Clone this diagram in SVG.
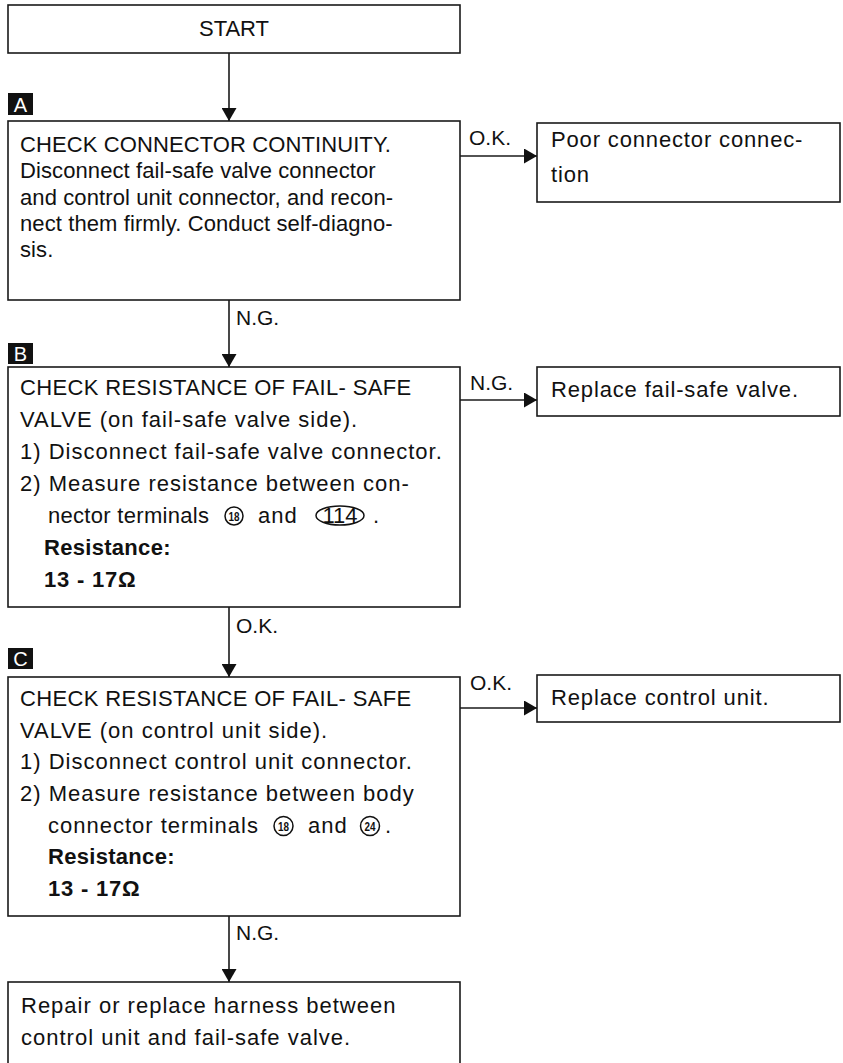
<svg xmlns="http://www.w3.org/2000/svg" width="843" height="1063" viewBox="0 0 843 1063">
  <style>
    .box { fill: #ffffff; stroke: #1a1a1a; stroke-width: 1.6; }
    .wire { fill: none; stroke: #1a1a1a; stroke-width: 1.6; }
    .t { font-family: "Liberation Sans", Arial, sans-serif; font-size: 22px; fill: #111; letter-spacing: 1px; }
    .ta { letter-spacing: 0.1px; }
    .cap { letter-spacing: 0.35px; }
    .side { letter-spacing: 0.85px; }
    .b { font-weight: bold; }
    .lbl { font-family: "Liberation Sans", Arial, sans-serif; font-size: 21px; fill: #111; }
    .tag { fill: #111; }
    .tagt { font-family: "Liberation Sans", Arial, sans-serif; font-size: 20px; fill: #fff; text-anchor: middle; }
    .ring { fill: none; stroke: #111; stroke-width: 1.5; }
    .rn { font-family: "Liberation Sans", Arial, sans-serif; font-size: 13px; font-weight: bold; fill: #111; text-anchor: middle; }
  </style>
  <defs>
    <marker id="arrow" markerUnits="userSpaceOnUse" markerWidth="14" markerHeight="15" refX="13" refY="7.5" orient="auto">
      <path d="M0,0 L13,7.5 L0,15 z" fill="#111"/>
    </marker>
  </defs>

  <rect width="843" height="1063" fill="#ffffff"/>

  <!-- step tags -->
  <g id="tag-a"><rect class="tag" x="8" y="93" width="25" height="22"/><text class="tagt" x="20.5" y="112">A</text></g>
  <g id="tag-b"><rect class="tag" x="8" y="343" width="25" height="21"/><text class="tagt" x="20.5" y="361">B</text></g>
  <g id="tag-c"><rect class="tag" x="8" y="648" width="25" height="21"/><text class="tagt" x="20.5" y="666">C</text></g>

  <!-- connectors -->
  <g id="connectors">
    <line class="wire" x1="229" y1="53" x2="229" y2="121" marker-end="url(#arrow)"/>
    <line class="wire" x1="460" y1="156" x2="537" y2="156" marker-end="url(#arrow)"/>
    <text class="lbl" x="469" y="145">O.K.</text>
    <line class="wire" x1="229" y1="300" x2="229" y2="367" marker-end="url(#arrow)"/>
    <text class="lbl" x="236" y="325">N.G.</text>
    <line class="wire" x1="460" y1="400" x2="537" y2="400" marker-end="url(#arrow)"/>
    <text class="lbl" x="470" y="390">N.G.</text>
    <line class="wire" x1="229" y1="607" x2="229" y2="677" marker-end="url(#arrow)"/>
    <text class="lbl" x="236" y="633">O.K.</text>
    <line class="wire" x1="460" y1="708" x2="537" y2="708" marker-end="url(#arrow)"/>
    <text class="lbl" x="470" y="690">O.K.</text>
    <line class="wire" x1="229" y1="916" x2="229" y2="982" marker-end="url(#arrow)"/>
    <text class="lbl" x="236" y="940">N.G.</text>
  </g>

  <g id="start">
    <rect class="box" x="8" y="5" width="452" height="48"/>
    <text class="t" x="234" y="36" text-anchor="middle" style="letter-spacing:0">START</text>
  </g>

  <g id="step-a">
    <rect class="box" x="8" y="121" width="452" height="179"/>
    <text class="t ta" x="20" y="152">CHECK CONNECTOR CONTINUITY.</text>
    <text class="t ta" x="20" y="178">Disconnect fail-safe valve connector</text>
    <text class="t ta" x="20" y="205">and control unit connector, and recon-</text>
    <text class="t ta" x="20" y="231">nect them firmly. Conduct self-diagno-</text>
    <text class="t ta" x="20" y="257">sis.</text>
  </g>

  <g id="poor-connection">
    <rect class="box" x="537" y="123" width="303" height="79"/>
    <text class="t side" x="551" y="147">Poor connector connec-</text>
    <text class="t side" x="551" y="182">tion</text>
  </g>

  <g id="step-b">
    <rect class="box" x="8" y="367" width="452" height="240"/>
    <text class="t cap" x="20" y="395">CHECK RESISTANCE OF FAIL- SAFE</text>
    <text class="t" x="20" y="427">VALVE (on fail-safe valve side).</text>
    <text class="t" x="20" y="459">1) Disconnect fail-safe valve connector.</text>
    <text class="t" x="20" y="491">2) Measure resistance between con-</text>
    <text class="t" x="48" y="523" style="letter-spacing:0.3px">nector terminals</text>
    <circle class="ring" cx="234" cy="516" r="9"/>
    <text class="rn" x="234" y="520.5" textLength="11" lengthAdjust="spacingAndGlyphs">18</text>
    <text class="t" x="258" y="523">and</text>
    <ellipse class="ring" cx="340" cy="515.5" rx="24" ry="9.5"/>
    <text class="t" x="340" y="523" text-anchor="middle" style="letter-spacing:0">114</text>
    <text class="t" x="373" y="523">.</text>
    <text class="t b" x="44" y="555" style="letter-spacing:0.3px">Resistance:</text>
    <text class="t b" x="44" y="587" style="letter-spacing:0.8px">13 - 17Ω</text>
  </g>

  <g id="replace-valve">
    <rect class="box" x="537" y="367" width="303" height="49"/>
    <text class="t side" x="551" y="397">Replace fail-safe valve.</text>
  </g>

  <g id="step-c">
    <rect class="box" x="8" y="677" width="452" height="239"/>
    <text class="t cap" x="20" y="706">CHECK RESISTANCE OF FAIL- SAFE</text>
    <text class="t" x="20" y="738">VALVE (on control unit side).</text>
    <text class="t" x="20" y="769">1) Disconnect control unit connector.</text>
    <text class="t" x="20" y="801">2) Measure resistance between body</text>
    <text class="t" x="48" y="833">connector terminals</text>
    <circle class="ring" cx="283.5" cy="826" r="9.5"/>
    <text class="rn" x="283.5" y="830.5" textLength="11" lengthAdjust="spacingAndGlyphs">18</text>
    <text class="t" x="308" y="833">and</text>
    <circle class="ring" cx="370" cy="826" r="9.5"/>
    <text class="rn" x="370" y="830.5" textLength="11" lengthAdjust="spacingAndGlyphs">24</text>
    <text class="t" x="385" y="833">.</text>
    <text class="t b" x="48" y="864" style="letter-spacing:0.3px">Resistance:</text>
    <text class="t b" x="48" y="896" style="letter-spacing:0.8px">13 - 17Ω</text>
  </g>

  <g id="replace-control-unit">
    <rect class="box" x="537" y="675" width="303" height="47"/>
    <text class="t side" x="551" y="705">Replace control unit.</text>
  </g>

  <g id="repair-harness">
    <rect class="box" x="8" y="982" width="452" height="90"/>
    <text class="t" x="21" y="1013">Repair or replace harness between</text>
    <text class="t" x="21" y="1045">control unit and fail-safe valve.</text>
  </g>
</svg>
